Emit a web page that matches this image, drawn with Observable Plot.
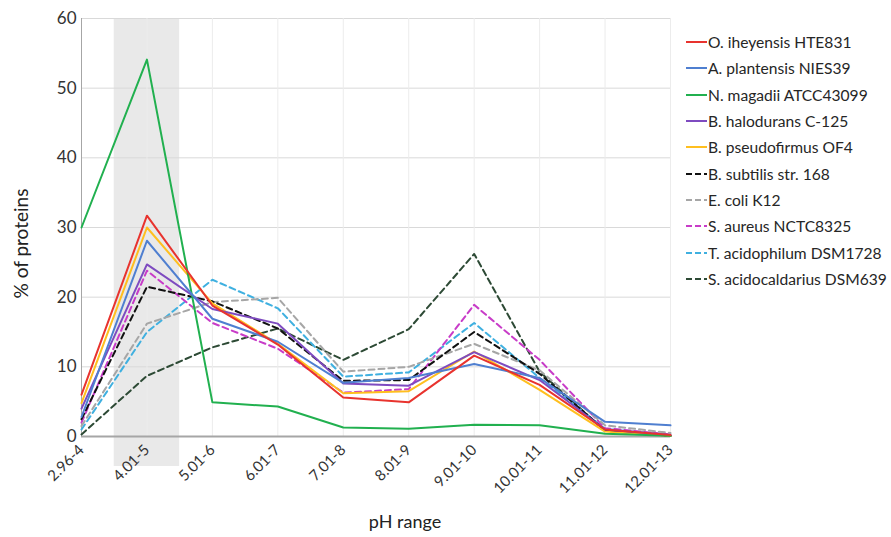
<!DOCTYPE html>
<html><head><meta charset="utf-8">
<script src="https://cdn.jsdelivr.net/npm/d3@7"></script>
<script src="https://cdn.jsdelivr.net/npm/@observablehq/plot@0.6"></script>
<style>
body{margin:0;background:#fff;font-family:Lato, sans-serif;}
#wrap{position:relative;width:891px;height:537px;}
#legend{position:absolute;left:686px;top:29px;font:15.6px Lato, sans-serif;color:#262626;}
.row{height:26.3px;display:flex;align-items:center;white-space:nowrap}
.row svg{margin-right:1px}
</style></head><body><div id="wrap"></div>
<script>
const categories = ["2.96-4","4.01-5","5.01-6","6.01-7","7.01-8","8.01-9","9.01-10","10.01-11","11.01-12","12.01-13"];
const highlightCategory = "4.01-5";
const yTicks = [0,10,20,30,40,50,60];

const names = ["O. iheyensis HTE831","A. plantensis NIES39","N. magadii ATCC43099","B. halodurans C-125","B. pseudofirmus OF4","B. subtilis str. 168","E. coli K12","S. aureus NCTC8325","T. acidophilum DSM1728","S. acidocaldarius DSM639"];
const oIheyensis      = [6.0, 31.7, 18.8, 13.2, 5.6, 4.9, 11.6, 7.4, 1.0, 0.2];
const aPlantensis     = [2.8, 28.1, 16.9, 13.6, 7.7, 8.4, 10.4, 8.4, 2.1, 1.6];
const nMagadii        = [30.0, 54.1, 4.9, 4.3, 1.3, 1.1, 1.7, 1.6, 0.4, 0.1];
const bHalodurans     = [4.0, 24.7, 18.3, 16.2, 7.6, 7.3, 12.1, 8.1, 1.0, 0.2];
const bPseudofirmus   = [4.8, 30.0, 19.1, 13.3, 6.2, 6.5, 12.2, 6.7, 0.7, 0.1];
const bSubtilis       = [2.5, 21.5, 19.4, 15.5, 8.0, 8.1, 15.0, 9.0, 0.9, 0.1];
const eColi           = [1.5, 16.2, 19.3, 19.9, 9.3, 10.0, 13.3, 9.5, 1.6, 0.5];
const sAureus         = [2.0, 23.8, 16.3, 12.6, 6.3, 6.8, 18.9, 11.0, 1.2, 0.3];
const tAcidophilum    = [1.0, 15.0, 22.5, 18.4, 8.6, 9.2, 16.3, 8.4, 1.1, 0.2];
const sAcidocaldarius = [0.3, 8.7, 12.8, 15.5, 11.0, 15.4, 26.2, 9.3, 0.8, 0.1];
const colors = ["#e8332e","#4f7fd0","#21b04f","#7e4bc0","#ffbf1f","#111111","#a6a6a6","#c83cc8","#3fb0e0","#2d4a35"];
const dashed = [false,false,false,false,false,true,true,true,true,true];

const values = [oIheyensis,aPlantensis,nMagadii,bHalodurans,bPseudofirmus,bSubtilis,eColi,sAureus,tAcidophilum,sAcidocaldarius];
const series = names.map((name,k)=>({name, color:colors[k], dash:dashed[k], rows: values[k].map((v,i)=>({i, v}))}));
const hi = categories.indexOf(highlightCategory);

const plot = Plot.plot({
  width: 891, height: 537,
  marginLeft: 81, marginRight: 221, marginTop: 18, marginBottom: 101,
  style: {fontFamily: "Lato, sans-serif", fontSize: "14px", color: "#333", background: "#fff"},
  x: {type: "linear", domain: [0, categories.length - 1]},
  y: {domain: [0, 60]},
  marks: [
    Plot.rect([hi], {x1: d => d - 0.5, x2: d => d + 0.5, y1: -4.3, y2: 60, fill: "#e9e9e9"}),
    Plot.gridY(yTicks.slice(1), {stroke: "#d9d9d9", strokeOpacity: 1}),
    Plot.gridX(d3.range(1, categories.length), {stroke: "#ececec", strokeOpacity: 1}),
    Plot.axisY(yTicks, {tickSize: 0, tickPadding: 5, fontSize: 17, fill: "#333", label: null}),
    Plot.axisX(d3.range(categories.length), {tickFormat: i => categories[i], tickRotate: -45, tickSize: 0, tickPadding: 11, fontSize: 15, fill: "#333", label: null}),
    Plot.ruleX([0], {stroke: "#a6a6a6", strokeWidth: 1}),
    Plot.ruleY([0], {stroke: "#a6a6a6", strokeWidth: 2}),
    ...series.slice().reverse().map(s => Plot.line(s.rows, {x: "i", y: "v", stroke: s.color, strokeWidth: 2, strokeDasharray: s.dash ? "6,4" : null})),
    Plot.text(["% of proteins"], {frameAnchor: "left", textAnchor: "middle", rotate: -90, dx: -60, dy: 16, fontSize: 19, fill: "#222"}),
    Plot.text(["pH range"], {frameAnchor: "bottom", dx: 29, dy: 91, fontSize: 18, fill: "#222"})
  ]
});
const wrap = document.getElementById("wrap");
wrap.appendChild(plot);

const legend = document.createElement("div");
legend.id = "legend";
series.forEach(s => {
  const row = document.createElement("div");
  row.className = "row";
  row.innerHTML = `<svg width="21" height="6"><line x1="0" x2="21" y1="3" y2="3" stroke="${s.color}" stroke-width="2" ${s.dash ? 'stroke-dasharray="6,3"' : ''}/></svg><span>${s.name}</span>`;
  legend.appendChild(row);
});
wrap.appendChild(legend);
</script>
</body></html>
